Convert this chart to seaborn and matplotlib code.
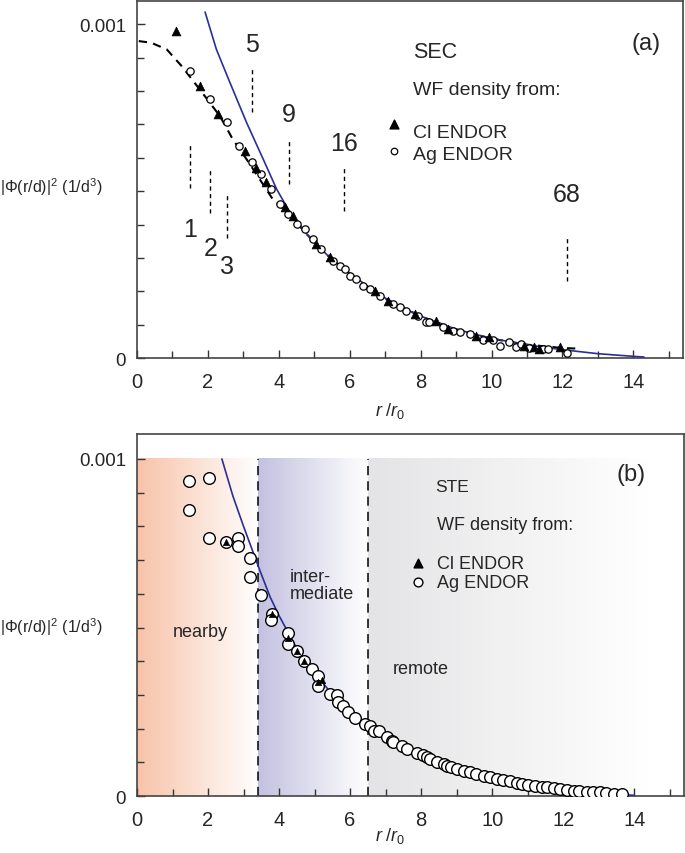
import numpy as np
import pandas as pd
import matplotlib
matplotlib.use('Agg')
import matplotlib.pyplot as plt
import seaborn as sns
from matplotlib.colors import LinearSegmentedColormap
from matplotlib.ticker import MultipleLocator

sns.set_style('white')
plt.rcParams['font.family'] = ['Liberation Sans', 'DejaVu Sans']
plt.rcParams['mathtext.fontset'] = 'custom'
plt.rcParams['mathtext.rm'] = 'Liberation Sans'
plt.rcParams['mathtext.it'] = 'Liberation Sans:italic'

# ---- panel (a): SEC, values in units of 1e-3 ----
sec_fit_r = [1.92, 2.24, 2.62, 3.09, 3.56, 3.94, 4.31, 4.8, 5.4, 6.0, 6.5, 7.0, 7.5, 8.0,
             8.5, 9.0, 9.5, 10.0, 10.5, 11.0, 11.5, 12.0, 12.5, 13.0, 13.5, 14.0, 14.3]
sec_fit_y = [1.037, 0.925, 0.826, 0.706, 0.596, 0.506, 0.437, 0.370, 0.305, 0.255, 0.215,
             0.180, 0.150, 0.126, 0.105, 0.087, 0.072, 0.059, 0.049, 0.040, 0.032, 0.025,
             0.019, 0.013, 0.009, 0.005, 0.003]
sec_guide_r = [0.05, 0.4, 0.84, 1.26, 1.77, 2.34, 2.7, 3.09, 3.46, 3.83, 4.3, 4.8, 5.3, 6.0,
               7.0, 8.0, 9.0, 10.0, 11.0, 12.0, 12.5]
sec_guide_y = [0.950, 0.945, 0.925, 0.875, 0.805, 0.725, 0.656, 0.596, 0.536, 0.476, 0.430,
               0.370, 0.315, 0.250, 0.178, 0.125, 0.086, 0.058, 0.040, 0.030, 0.028]
sec_cl_r = [1.09, 1.77, 2.29, 3.04, 3.37, 3.65, 4.17, 4.40, 5.06, 5.44, 6.70, 7.08, 7.83,
            8.44, 8.77, 9.57, 9.94, 10.93, 11.20, 11.35, 11.92]
sec_cl_y = [0.980, 0.815, 0.730, 0.621, 0.571, 0.528, 0.454, 0.426, 0.341, 0.302, 0.202,
            0.172, 0.132, 0.112, 0.087, 0.067, 0.062, 0.037, 0.032, 0.027, 0.032]
sec_ag_r = [1.49, 2.07, 2.53, 2.88, 3.23, 3.51, 3.79, 4.03, 4.26, 4.52, 4.73, 4.97, 5.20,
            5.53, 5.72, 5.86, 6.00, 6.19, 6.38, 6.56, 6.85, 7.22, 7.41, 7.60, 7.92, 8.16,
            8.25, 8.63, 8.91, 9.10, 9.38, 9.76, 10.03, 10.23, 10.50, 10.70, 10.84, 11.07,
            11.44, 11.59, 12.12]
sec_ag_y = [0.860, 0.775, 0.708, 0.636, 0.588, 0.551, 0.508, 0.461, 0.431, 0.401, 0.386,
            0.356, 0.328, 0.291, 0.276, 0.266, 0.246, 0.237, 0.216, 0.207, 0.187, 0.162,
            0.152, 0.142, 0.127, 0.109, 0.107, 0.092, 0.082, 0.077, 0.072, 0.055, 0.055,
            0.037, 0.047, 0.032, 0.042, 0.029, 0.027, 0.027, 0.015]
shell_labels = ['1', '2', '3', '5', '9', '16', '68']
shell_r = [1.49, 2.07, 2.53, 3.23, 4.29, 5.85, 12.13]
shell_top = [0.641, 0.571, 0.491, 0.865, 0.651, 0.576, 0.362]
shell_bot = [0.511, 0.436, 0.361, 0.737, 0.521, 0.441, 0.231]
shell_text_y = [0.386, 0.331, 0.276, 0.940, 0.731, 0.646, 0.491]

# ---- panel (b): STE ----
ste_fit_r = [2.39, 2.7, 3.0, 3.46, 3.75, 4.0, 4.54, 5.0, 5.44, 6.0, 6.5, 7.0, 7.5, 8.0,
             8.73, 9.5, 10.0, 10.5, 11.0, 11.5, 12.0, 12.5, 13.0, 13.5, 14.0]
ste_fit_y = [1.000, 0.890, 0.800, 0.669, 0.590, 0.535, 0.430, 0.365, 0.309, 0.250, 0.210,
             0.175, 0.146, 0.121, 0.090, 0.068, 0.056, 0.045, 0.036, 0.028, 0.021, 0.015,
             0.010, 0.006, 0.002]
ste_ag_r = [1.46, 2.04, 1.46, 2.04, 2.50, 2.85, 2.85, 3.18, 3.18, 3.48, 3.79, 3.77, 4.26,
            4.26, 4.50, 4.69, 4.92, 5.11, 5.11, 5.44, 5.63, 5.67, 5.81, 5.95, 6.14, 6.42,
            6.56, 6.66, 6.80, 7.03, 7.17, 7.22, 7.46, 7.60, 7.88, 8.05, 8.16, 8.25, 8.44,
            8.63, 8.72, 8.85, 9.00, 9.20, 9.38, 9.55, 9.76, 9.95, 10.13, 10.30, 10.50,
            10.70, 10.84, 11.00, 11.20, 11.40, 11.54, 11.75, 11.92, 12.10, 12.29, 12.45,
            12.67, 12.85, 13.04, 13.20, 13.42, 13.65]
ste_ag_y = [0.934, 0.943, 0.850, 0.765, 0.755, 0.766, 0.741, 0.706, 0.651, 0.596, 0.540,
            0.522, 0.484, 0.451, 0.431, 0.401, 0.377, 0.357, 0.325, 0.303, 0.300, 0.278,
            0.268, 0.248, 0.233, 0.214, 0.209, 0.194, 0.194, 0.174, 0.164, 0.159, 0.147,
            0.140, 0.128, 0.121, 0.115, 0.110, 0.100, 0.095, 0.090, 0.086, 0.080, 0.075,
            0.070, 0.066, 0.060, 0.057, 0.052, 0.049, 0.045, 0.040, 0.036, 0.034, 0.031,
            0.027, 0.026, 0.023, 0.021, 0.019, 0.016, 0.014, 0.013, 0.012, 0.011, 0.009,
            0.006, 0.006]
ste_cl_r = [2.50, 3.79, 4.26, 4.50, 4.69, 5.11, 5.20]
ste_cl_y = [0.755, 0.540, 0.469, 0.431, 0.401, 0.337, 0.345]
region_edges = [0.0, 3.42, 6.5, 14.4]
region_names = ['nearby', 'inter-\nmediate', 'remote']
region_colors = ['#f8c3a9', '#c3c1df', '#e4e4e6']

SCALE = 1e-3
BLUE = '#2a2e96'

fig = plt.figure(figsize=(6.85, 8.54), dpi=100)
ax_a = fig.add_axes([0.2, 0.5796, 0.797, 0.418])
ax_b = fig.add_axes([0.2, 0.0667, 0.7985, 0.4239])


def frame(ax, ytop, label_y):
    ax.set_xlim(0, 15.4)
    ax.set_ylim(0, ytop)
    ax.xaxis.set_major_locator(MultipleLocator(2))
    ax.xaxis.set_minor_locator(MultipleLocator(1))
    ax.set_yticks([0, 0.001])
    ax.set_yticklabels(['0', '0.001'])
    ax.yaxis.set_minor_locator(MultipleLocator(0.0001))
    ax.tick_params(which='both', direction='in', color='#333333', width=1.0,
                   bottom=True, left=True)
    ax.tick_params(axis='x', which='major', length=6, pad=10, labelsize=14.5)
    ax.tick_params(axis='y', which='major', length=6, pad=8, labelsize=13.5)
    ax.tick_params(which='minor', length=5)
    for s in ax.spines.values():
        s.set_color('#444444')
        s.set_linewidth(1.2)
    ax.set_xlabel(r'$r$ /$r_{\mathrm{0}}$', fontsize=13)
    ax.xaxis.label.set_va('center')
    ax.xaxis.set_label_coords(0.463, label_y)
    ax.set_ylabel('')


# ---------- (a) ----------
ax = ax_a
sns.lineplot(x=sec_guide_r, y=np.array(sec_guide_y) * SCALE, ax=ax, color='black',
             lw=1.5, estimator=None, linestyle=(0, (4, 3)), zorder=2)
sns.lineplot(x=sec_fit_r, y=np.array(sec_fit_y) * SCALE, ax=ax, color=BLUE, lw=1.2,
             estimator=None, zorder=3)
sns.scatterplot(x=sec_ag_r, y=np.array(sec_ag_y) * SCALE, ax=ax, marker='o', s=28,
                facecolor='white', edgecolor='black', linewidth=0.9, zorder=4)
sns.scatterplot(x=sec_cl_r, y=np.array(sec_cl_y) * SCALE, ax=ax, marker='^', s=40,
                color='black', edgecolor='black', zorder=5)
for lab, r, t, b, ty in zip(shell_labels, shell_r, shell_top, shell_bot, shell_text_y):
    ax.plot([r, r], [b * SCALE, t * SCALE], color='black', lw=1.0, ls=(0, (3, 2.5)))
    ax.text(r, ty * SCALE, lab, fontsize=18, ha='center', va='center')
ax.text(7.78, 0.920 * SCALE, 'SEC', fontsize=15.5, va='center')
ax.text(7.78, 0.805 * SCALE, 'WF density from:', fontsize=14, va='center')
ax.scatter([7.25], [0.700 * SCALE], marker='^', s=40, color='black')
ax.text(7.78, 0.677 * SCALE, 'Cl ENDOR', fontsize=14, va='center')
ax.scatter([7.25], [0.622 * SCALE], marker='o', s=22, facecolor='white', edgecolor='black',
           linewidth=0.9)
ax.text(7.78, 0.611 * SCALE, 'Ag ENDOR', fontsize=14, va='center')
ax.text(14.36, 0.945 * SCALE, '(a)', fontsize=17, ha='center', va='center')
frame(ax, 0.00107, -0.146)

# ---------- (b) ----------
ax = ax_b
grad = np.linspace(0, 1, 256)[None, :]
for x0, x1, c in zip(region_edges[:-1], region_edges[1:], region_colors):
    cmap = LinearSegmentedColormap.from_list('g', [c, '#ffffff'])
    ax.imshow(grad, cmap=cmap, extent=[x0, x1, 0, 0.001], aspect='auto', zorder=0,
              interpolation='bilinear')
for xe in region_edges[1:3]:
    ax.plot([xe, xe], [0, 0.001], color='black', lw=1.1, ls=(0, (6, 4)), zorder=1)
ax.text(1.77, 0.487 * SCALE, region_names[0], fontsize=13, ha='center', va='center')
ax.text(4.3, 0.625 * SCALE, region_names[1], fontsize=13, ha='left', va='center',
        linespacing=1.0)
ax.text(7.2, 0.377 * SCALE, region_names[2], fontsize=13, ha='left', va='center')

sns.lineplot(x=ste_fit_r, y=np.array(ste_fit_y) * SCALE, ax=ax, color=BLUE, lw=1.2,
             estimator=None, zorder=3)
sns.scatterplot(x=ste_ag_r, y=np.array(ste_ag_y) * SCALE, ax=ax, marker='o', s=70,
                facecolor='white', edgecolor='black', linewidth=1.0, zorder=4)
sns.scatterplot(x=ste_cl_r, y=np.array(ste_cl_y) * SCALE, ax=ax, marker='^', s=22,
                color='black', edgecolor='black', zorder=5)
ax.text(8.4, 0.917 * SCALE, 'STE', fontsize=12.5, va='center')
ax.text(8.44, 0.807 * SCALE, 'WF density from:', fontsize=13, va='center')
ax.scatter([7.9], [0.691 * SCALE], marker='^', s=40, color='black', zorder=5)
ax.text(8.44, 0.691 * SCALE, 'Cl ENDOR', fontsize=13, va='center')
ax.scatter([7.9], [0.634 * SCALE], marker='o', s=40, facecolor='white', edgecolor='black',
           linewidth=1.0, zorder=5)
ax.text(8.44, 0.634 * SCALE, 'Ag ENDOR', fontsize=13, va='center')
ax.text(13.9, 0.955 * SCALE, '(b)', fontsize=17, ha='center', va='center')
frame(ax, 0.001074, -0.108)

ylab = r'|$\Phi$(r/d)|$^{2}$ (1/d$^{3}$)'
fig.text(0.0, 1 - 187 / 854, ylab, fontsize=11.5, ha='left', va='center')
fig.text(0.0, 1 - 627 / 854, ylab, fontsize=11.5, ha='left', va='center')

fig.savefig('out.png', dpi=100)
